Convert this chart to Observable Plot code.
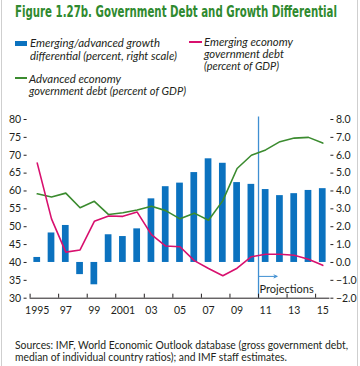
<!DOCTYPE html>
<html><head><meta charset="utf-8">
<script src="https://cdn.jsdelivr.net/npm/d3@7"></script>
<script src="https://cdn.jsdelivr.net/npm/@observablehq/plot@0.6"></script>
<style>
html,body{margin:0;padding:0;background:#fff;}
#wrap{position:relative;width:360px;height:366px;overflow:hidden;background:#fff;font-family:Lato,"Open Sans",sans-serif;color:#231f20;}
.t{position:absolute;white-space:nowrap;transform-origin:0 50%;line-height:12px;height:12px;}
.title{font-family:"Liberation Sans Narrow","DejaVu Sans Condensed",sans-serif;font-weight:bold;color:#2f8a2f;font-size:15px;line-height:16px;height:16px;}
.leg{font-style:italic;font-size:11px;}
.foot{font-size:11px;}
.sw{position:absolute;}
.border{position:absolute;top:0;bottom:0;width:1px;background:#cfcfcf;}
#plot{position:absolute;left:0;top:100px;}
</style></head>
<body>
<div id="wrap">
  <div class="border" style="left:1px"></div>
  <div class="border" style="left:357px"></div>
  <div class="t title" data-w="322" style="left:15px;top:4px">Figure 1.27b. Government Debt and Growth Differential</div>

  <div class="sw" style="left:15px;top:41px;width:12px;height:5px;background:#0b72bf"></div>
  <div class="t leg" data-w="130" style="left:30px;top:37px">Emerging/advanced growth</div>
  <div class="t leg" data-w="147" style="left:30px;top:50px">differential (percent, right scale)</div>

  <div class="sw" style="left:189px;top:41px;width:13px;height:2px;background:#d8106e"></div>
  <div class="t leg" data-w="89" style="left:204px;top:36px">Emerging economy</div>
  <div class="t leg" data-w="80" style="left:204px;top:48px">government debt</div>
  <div class="t leg" data-w="75" style="left:204px;top:60px">(percent of GDP)</div>

  <div class="sw" style="left:15px;top:77px;width:12px;height:2px;background:#3b8b2f"></div>
  <div class="t leg" data-w="92" style="left:29px;top:73px">Advanced economy</div>
  <div class="t leg" data-w="157" style="left:29px;top:85px">government debt (percent of GDP)</div>

  <div id="plot"></div>

  <div class="t foot" data-w="333" style="left:15px;top:339px">Sources: IMF, World Economic Outlook database (gross government debt,</div>
  <div class="t foot" data-w="272" style="left:15px;top:351px">median of individual country ratios); and IMF staff estimates.</div>
</div>
<script>
// ---- data ----
const years = [1995,1996,1997,1998,1999,2000,2001,2002,2003,2004,2005,2006,2007,2008,2009,2010,2011,2012,2013,2014,2015];
const growthDiff = [0.28,1.65,2.07,-0.68,-1.25,1.55,1.45,1.88,3.56,4.24,4.44,5.03,5.8,5.55,4.47,4.37,4.08,3.74,3.85,4.03,4.13];
const emergingDebt = [67.8,52.2,42.9,43.5,51.5,53.0,52.9,54.1,47.8,44.6,44.4,40.5,38.3,36.3,38.4,41.6,42.3,42.3,42.0,40.9,39.2];
const advancedDebt = [59.2,58.3,59.4,55.3,57.1,53.4,53.9,54.7,55.7,54.5,52.2,53.8,51.8,57.3,66.3,70.0,71.5,73.8,74.8,75.0,73.4];
const leftTicks = [30,35,40,45,50,55,60,65,70,75,80];
const xLabelYears = [1995,1997,1999,2001,2003,2005,2007,2009,2011,2013,2015];
const xTickLabels = ["1995","97","99","2001","03","05","07","09","11","13","15"];
const xTickMarks = [1994.5,1996.5,1998.5,2000.5,2002.5,2004.5,2006.5,2008.5,2010.5,2012.5,2014.5];
const projectionYear = [2010.5];
const projectionLabel = ["Projections"];

const rows = years.map((y,i)=>({year:y, growth:growthDiff[i], emerging:emergingDebt[i], advanced:advancedDebt[i]}));
const toLeft = r => 40 + 5*r;          // right scale (percent) -> left scale
const fmtR = d3.format(".1f");
const font = 'Lato,"Open Sans",sans-serif';

const chart = Plot.plot({
  width:360, height:224,
  marginTop:19, marginBottom:26.3, marginLeft:29.6, marginRight:30.6,
  x:{type:"linear", domain:[1994.5,2015.5]},
  y:{domain:[30,80]},
  style:{fontFamily:font, fontSize:"10.5px", color:"#231f20", background:"transparent", overflow:"visible"},
  marks:[
    Plot.rect(rows,{x1:d=>d.year-0.235, x2:d=>d.year+0.235, y1:40, y2:d=>toLeft(d.growth), fill:"#0b72bf"}),
    Plot.ruleX(projectionYear,{x:d=>d, y1:30, y2:80.7, stroke:"#3f8fd2", strokeWidth:1.3}),
    Plot.line(rows,{x:"year", y:"advanced", stroke:"#3b8b2f", strokeWidth:1.6}),
    Plot.line(rows,{x:"year", y:"emerging", stroke:"#d8106e", strokeWidth:1.6}),
    Plot.arrow(projectionYear,{x1:d=>d+0.05, x2:d=>d+1.3, y1:36.1, y2:36.1, stroke:"#3f8fd2", strokeWidth:1, headLength:5, headAngle:50}),
    Plot.text(projectionLabel,{x:()=>projectionYear[0]+0.07, y:32.4, text:d=>d, textAnchor:"start", fontSize:11, fill:"#231f20"}),
    Plot.ruleY([30],{stroke:"#231f20", strokeWidth:1}),
    Plot.axisY({anchor:"left", ticks:leftTicks, tickSize:3, tickPadding:3, dx:-3, label:null, tickFormat:d=>String(d)}),
    Plot.axisY({anchor:"right", ticks:leftTicks, tickSize:3, tickPadding:3, label:null, tickFormat:d=>fmtR((d-40)/5)}),
    Plot.axisX({ticks:xTickMarks, tickSize:4, dy:-4, tickFormat:()=> "", label:null}),
    Plot.axisX({ticks:xLabelYears, tickSize:0, tickPadding:8, label:null, tickFormat:d=>xTickLabels[xLabelYears.indexOf(d)]})
  ]
});
document.getElementById("plot").appendChild(chart);

// fit text widths to the reference
document.querySelectorAll("[data-w]").forEach(el=>{
  const w = el.getBoundingClientRect().width;
  const target = +el.dataset.w;
  if (w>0) el.style.transform = `scaleX(${target/w})`;
});
</script>
</body></html>
